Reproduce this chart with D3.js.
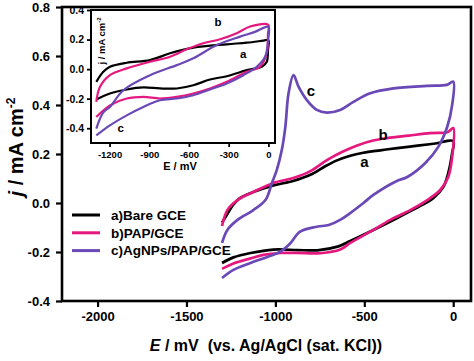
<!DOCTYPE html>
<html><head><meta charset="utf-8">
<script src="https://cdn.jsdelivr.net/npm/d3@7"></script>
<style>
html,body{margin:0;padding:0;background:#fff;}
text{font-family:Arial,"Liberation Sans",sans-serif;font-weight:bold;fill:#000;}
</style></head>
<body>
<svg id="c" width="474" height="361"></svg>
<script>
// ---------- data (E in mV, j in mA cm^-2) ----------
const seriesNames = ["a)Bare GCE", "b)PAP/GCE", "c)AgNPs/PAP/GCE"];
const seriesColors = ["#000000", "#e5187f", "#6a48b6"];
const curveLetters = ["a", "b", "c"];

const mainBare = [[-1300,-0.08],[-1270,-0.045],[-1240,-0.01],[-1200,0.02],[-1124,0.045],[-1011,0.072],[-900,0.09],[-803,0.115],[-720,0.15],[-650,0.175],[-579,0.193],[-506,0.205],[-410,0.215],[-315,0.224],[-200,0.234],[-100,0.243],[0,0.253],
  [-6,0.204],[-28,0.122],[-56,0.065],[-112,0.02],[-185,-0.012],[-315,-0.061],[-449,-0.11],[-579,-0.155],[-650,-0.178],[-764,-0.193],[-876,-0.192],[-1011,-0.19],[-1140,-0.204],[-1236,-0.222],[-1300,-0.245]];
const mainPAP = [[-1300,-0.094],[-1270,-0.029],[-1213,0.012],[-1124,0.045],[-1011,0.082],[-899,0.102],[-803,0.13],[-708,0.176],[-620,0.21],[-540,0.235],[-450,0.255],[-370,0.265],[-250,0.275],[-129,0.285],[-30,0.29],[0,0.306],
  [-6,0.188],[-28,0.106],[-73,0.053],[-146,0.012],[-242,-0.029],[-354,-0.069],[-449,-0.11],[-579,-0.163],[-635,-0.19],[-747,-0.205],[-876,-0.204],[-972,-0.204],[-1067,-0.212],[-1140,-0.226],[-1236,-0.247],[-1300,-0.269]];
const mainAgNP = [[-1300,-0.163],[-1270,-0.11],[-1213,-0.069],[-1124,-0.029],[-1056,0.012],[-1020,0.08],[-992,0.135],[-964,0.216],[-944,0.311],[-926,0.448],[-898,0.522],[-870,0.475],[-823,0.42],[-767,0.38],[-711,0.369],[-636,0.38],[-561,0.413],[-467,0.448],[-336,0.468],[-148,0.478],[-36,0.482],[0,0.495],
  [-6,0.4],[-34,0.31],[-84,0.229],[-157,0.163],[-258,0.106],[-317,0.09],[-449,0.033],[-505,0.0],[-579,-0.041],[-636,-0.069],[-700,-0.09],[-767,-0.097],[-861,-0.117],[-917,-0.165],[-973,-0.199],[-1045,-0.22],[-1140,-0.245],[-1236,-0.273],[-1300,-0.306]];

const insetBare = [[-1300,-0.086],[-1247,-0.018],[-1197,0.016],[-1070,0.043],[-894,0.061],[-743,0.107],[-567,0.145],[-314,0.168],[-163,0.179],[-38,0.193],[0,0.197],
  [-3,0.129],[-12,0.05],[-50,0.016],[-163,-0.007],[-314,-0.048],[-441,-0.07],[-567,-0.109],[-692,-0.131],[-819,-0.131],[-945,-0.124],[-1070,-0.138],[-1197,-0.165],[-1300,-0.206]];
const insetPAP = [[-1300,-0.222],[-1272,-0.12],[-1197,-0.041],[-1070,0.005],[-894,0.05],[-743,0.084],[-617,0.134],[-491,0.175],[-365,0.202],[-239,0.243],[-138,0.288],[0,0.299],
  [-3,0.243],[-12,0.107],[-63,0.016],[-163,-0.018],[-314,-0.086],[-441,-0.131],[-567,-0.165],[-692,-0.188],[-819,-0.199],[-945,-0.188],[-1070,-0.199],[-1197,-0.245],[-1300,-0.324]];
const insetAgNP = [[-1300,-0.403],[-1247,-0.293],[-1197,-0.256],[-1096,-0.143],[-894,-0.041],[-692,0.027],[-567,0.073],[-390,0.163],[-214,0.22],[-101,0.252],[0,0.286],
  [-2,0.197],[-25,0.084],[-88,0.016],[-189,-0.041],[-314,-0.097],[-441,-0.138],[-567,-0.177],[-692,-0.199],[-819,-0.211],[-945,-0.256],[-1070,-0.313],[-1197,-0.381],[-1300,-0.449]];

const mainXTicks = [-2000, -1500, -1000, -500, 0];
const mainYTicks = [-0.4, -0.2, 0.0, 0.2, 0.4, 0.6, 0.8];
const insetXTicks = [-1200, -900, -600, -300, 0];
const insetYTicks = [-0.4, -0.2, 0.0, 0.2, 0.4];

const mainLabelPos = [[-500, 0.17], [-395, 0.28], [-800, 0.46]];   // where letters a,b,c sit
const insetLabelPos = [[-190, 0.1], [-380, 0.32], [-1115, -0.4]];

// ---------- drawing ----------
const svg = d3.select("#c");
svg.append("rect").attr("width",474).attr("height",361).attr("fill","#fff");

const x = d3.scaleLinear().domain([-2200, 100]).range([62, 471]);
const y = d3.scaleLinear().domain([-0.4, 0.8]).range([301, 7]);

const mainSeries = [mainBare, mainPAP, mainAgNP];
const insetSeries = [insetBare, insetPAP, insetAgNP];

// main curves
const lineMain = d3.line().x(d=>x(d[0])).y(d=>y(d[1])).curve(d3.curveCatmullRom.alpha(0.5));
mainSeries.forEach((s,i)=>{
  svg.append("path").attr("d", lineMain(s)).attr("fill","none")
    .attr("stroke", seriesColors[i]).attr("stroke-width",2.7).attr("stroke-linejoin","round");
});

// axes
const xAxis = d3.axisBottom(x).tickValues(mainXTicks).tickSize(6).tickPadding(5);
const gx = svg.append("g").attr("transform","translate(0,301)").call(xAxis);
const yAxis = d3.axisLeft(y).tickValues(mainYTicks).tickSize(6).tickPadding(6);
const gy = svg.append("g").attr("transform","translate(62,0)").call(yAxis);
[gx, gy].forEach(g=>{
  g.select(".domain").remove();
  g.selectAll(".tick line").attr("stroke","#000").attr("stroke-width",2.2);
  g.selectAll(".tick text").attr("font-size","13px").attr("font-weight","bold").attr("fill","#000")
    .attr("font-family","Arial, 'Liberation Sans', sans-serif");
});
gx.selectAll(".tick text").text(d=> d===0 ? "0" : d3.format("d")(d).replace("−","-"));
gy.selectAll(".tick text").text(d=> d3.format(".1f")(d).replace("−","-"));

// axis titles
const xt = svg.append("text").attr("x",266).attr("y",351).attr("text-anchor","middle").attr("font-size","16px").style("white-space","pre");
xt.append("tspan").attr("font-style","italic").text("E");
xt.append("tspan").text(" / mV  (vs. Ag/AgCl (sat. KCl))");

const yt = svg.append("text").attr("transform","translate(23,147) rotate(-90)").attr("text-anchor","middle").attr("font-size","20px");
yt.append("tspan").attr("font-style","italic").text("j");
yt.append("tspan").text(" / mA cm");
yt.append("tspan").attr("font-size","12px").attr("dy","-8").text("-2");

// main curve letters
curveLetters.forEach((l,i)=>{
  svg.append("text").attr("x",x(mainLabelPos[i][0])).attr("y",y(mainLabelPos[i][1])).attr("dy","0.35em")
    .attr("text-anchor","middle").attr("font-size","15px").text(l);
});

// legend
seriesNames.forEach((n,i)=>{
  const ly = 215 + i*17.8;
  svg.append("line").attr("x1",72).attr("x2",100).attr("y1",ly).attr("y2",ly)
    .attr("stroke",seriesColors[i]).attr("stroke-width",3);
  svg.append("text").attr("x",111).attr("y",ly).attr("dy","0.36em").attr("font-size","13.5px").text(n);
});

// ---------- inset ----------
svg.append("defs").append("clipPath").attr("id","insetClip")
  .append("rect").attr("x",0).attr("y",8).attr("width",474).attr("height",353);
const ins = svg.append("g").attr("clip-path","url(#insetClip)");
const xi = d3.scaleLinear().domain([-1340, 50]).range([91, 275]);
const yi = d3.scaleLinear().domain([-0.5, 0.4]).range([143, 10]);
ins.append("rect").attr("x",91).attr("y",10).attr("width",184).attr("height",133).attr("fill","#fff");
const lineIn = d3.line().x(d=>xi(d[0])).y(d=>yi(d[1])).curve(d3.curveCatmullRom.alpha(0.5));
insetSeries.forEach((s,i)=>{
  ins.append("path").attr("d", lineIn(s)).attr("fill","none")
    .attr("stroke", seriesColors[i]).attr("stroke-width",2.2).attr("stroke-linejoin","round");
});
ins.append("rect").attr("x",91).attr("y",10).attr("width",184).attr("height",133)
  .attr("fill","none").attr("stroke","#000").attr("stroke-width",2);

const xiAxis = d3.axisBottom(xi).tickValues(insetXTicks).tickSize(4).tickPadding(4);
const gxi = ins.append("g").attr("transform","translate(0,143)").call(xiAxis);
const yiAxis = d3.axisLeft(yi).tickValues(insetYTicks).tickSize(4).tickPadding(3);
const gyi = ins.append("g").attr("transform","translate(91,0)").call(yiAxis);
[gxi, gyi].forEach(g=>{
  g.select(".domain").remove();
  g.selectAll(".tick line").attr("stroke","#000").attr("stroke-width",1.8);
  g.selectAll(".tick text").attr("font-weight","bold").attr("fill","#000")
    .attr("font-family","Arial, 'Liberation Sans', sans-serif");
});
gxi.selectAll(".tick text").attr("font-size","9.5px").text(d=> d===0 ? "0" : d3.format("d")(d).replace("−","-"));
gyi.selectAll(".tick text").attr("font-size","10.5px").text(d=> d3.format(".1f")(d).replace("−","-"));

ins.append("text").attr("x",180).attr("y",170).attr("text-anchor","middle").attr("font-size","11px").text("E / mV");
const yti = ins.append("text").attr("transform","translate(105,41) rotate(-90)").attr("text-anchor","middle").attr("font-size","9.5px");
yti.append("tspan").text("j / mA cm");
yti.append("tspan").attr("font-size","6px").attr("dy","-4").text("-2");

curveLetters.forEach((l,i)=>{
  ins.append("text").attr("x",xi(insetLabelPos[i][0])).attr("y",yi(insetLabelPos[i][1])).attr("dy","0.35em")
    .attr("text-anchor","middle").attr("font-size","11.5px").text(l);
});

// main frame on top
svg.append("rect").attr("x",62).attr("y",7).attr("width",409).attr("height",294)
  .attr("fill","none").attr("stroke","#000").attr("stroke-width",2.6);
</script>
</body></html>
